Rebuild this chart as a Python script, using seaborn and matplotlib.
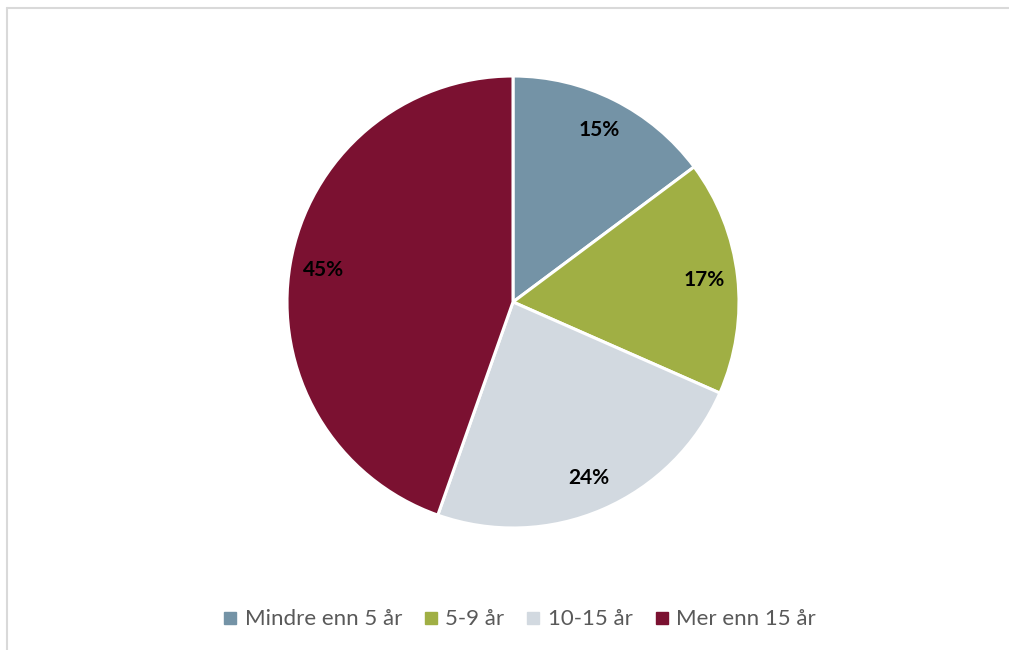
import matplotlib
matplotlib.use("Agg")
import matplotlib.pyplot as plt
from matplotlib.lines import Line2D
import numpy as np
import seaborn as sns

categories = ["Mindre enn 5 år", "5-9 år", "10-15 år", "Mer enn 15 år"]
shares = [14.8, 16.8, 23.8, 44.6]
pct_labels = ["15%", "17%", "24%", "45%"]
colors = ["#7493A6", "#A0AF44", "#D2D9E0", "#7B1131"]

sns.set_theme(style="white")
plt.rcParams["font.family"] = ["Lato", "DejaVu Sans"]

W, H = 1009, 650
fig = plt.figure(figsize=(W / 100, H / 100), dpi=100)
fig.patch.set_facecolor("white")

cx, cy, r = 513, 302, 226
ax = fig.add_axes([(cx - r) / W, (H - cy - r) / H, 2 * r / W, 2 * r / H])
wedges, _ = ax.pie(
    shares,
    colors=colors,
    startangle=90,
    counterclock=False,
    radius=1,
    wedgeprops=dict(edgecolor="white", linewidth=2.2),
)
# percentage labels along each wedge's mid angle
for w, lab in zip(wedges, pct_labels):
    ang = np.deg2rad((w.theta1 + w.theta2) / 2)
    ax.text(0.85 * np.cos(ang), 0.85 * np.sin(ang), lab,
            ha="center", va="center", fontsize=15, fontweight="bold", color="black")
ax.set_xlim(-1, 1)
ax.set_ylim(-1, 1)
ax.set_aspect("auto")
ax.axis("off")

handles = [Line2D([], [], marker="s", linestyle="none", markersize=8,
                  markerfacecolor=c, markeredgecolor=c) for c in colors]
fig.legend(handles, categories, loc="center", bbox_to_anchor=(0.515, 0.047),
           ncol=4, frameon=False, fontsize=16, handlelength=0.6,
           handletextpad=0.35, columnspacing=1.0, labelcolor="#595959")

# thin frame lines (top and left), as in the source
fig.add_artist(Line2D([7 / W, 1], [1 - 8 / H, 1 - 8 / H], color="#D9D9D9", linewidth=1.5))
fig.add_artist(Line2D([7 / W, 7 / W], [0, 1 - 8 / H], color="#D9D9D9", linewidth=1.5))

fig.savefig("out.png", dpi=100)
